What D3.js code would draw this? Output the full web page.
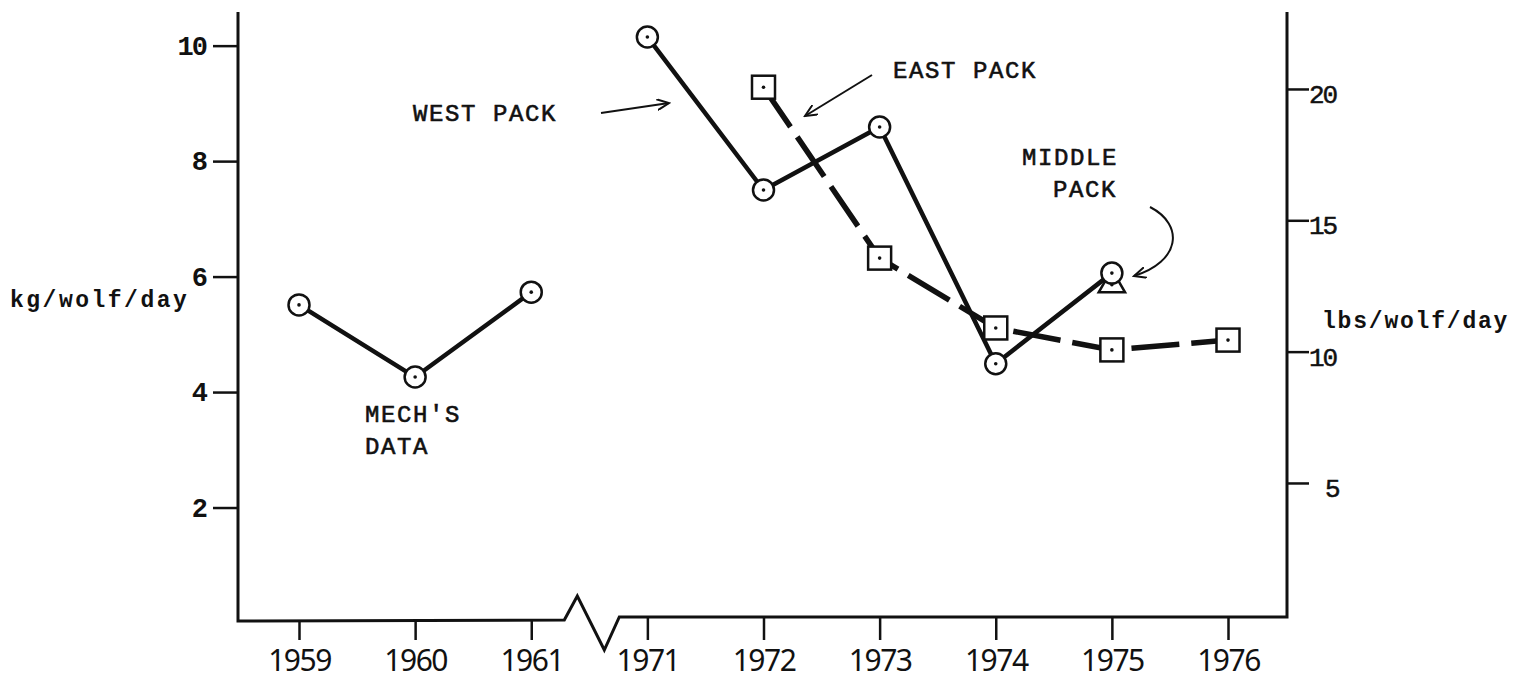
<!DOCTYPE html>
<html>
<head>
<meta charset="utf-8">
<script src="https://cdn.jsdelivr.net/npm/d3@7"></script>
<style>
  body { margin: 0; background: #fff; }
  .mono { font-family: "Liberation Mono", "DejaVu Sans Mono", monospace; fill: #111; }
  .year { font-family: "Noto Sans", "DejaVu Sans", sans-serif; fill: #111; }
</style>
</head>
<body>
<div id="chart"></div>
<script>
// years along the broken x axis
var years = ["1959", "1960", "1961", "1971", "1972", "1973", "1974", "1975", "1976"];

// kg/wolf/day
var mechYears = ["1959", "1960", "1961"];
var mechValues = [5.51, 4.26, 5.73];

var westYears = ["1971", "1972", "1973", "1974", "1975"];
var westValues = [10.15, 7.5, 8.59, 4.49, 6.06];

var eastYears = ["1972", "1973", "1974", "1975", "1976"];
var eastValues = [9.28, 6.32, 5.11, 4.73, 4.9];

var middleYears = ["1975"];
var middleValues = [5.86];

var kgTicks = [2, 4, 6, 8, 10];
var lbsTicks = [5, 10, 15, 20];

var svgWidth = 1516;
var svgHeight = 680;

var svg = d3.select("#chart")
  .append("svg")
  .attr("width", svgWidth)
  .attr("height", svgHeight);

// scales
var xScale = d3.scalePoint().domain(years).range([299, 1228]);
var yScale = d3.scaleLinear().domain([0, 10.6]).range([623, 11]);
// right axis was hand drawn, its ticks don't line up exactly with kg*2.2
var yLbs = d3.scaleLinear().domain([0, 22.93]).range([614.3, 12]);

var leftX = 238, rightX = 1287, topY = 12, baseL = 621, baseR = 617;

// frame with the axis break between 1961 and 1971
var brk = (xScale("1961") + xScale("1971")) / 2;
var frame = d3.path();
frame.moveTo(leftX, topY);
frame.lineTo(leftX, baseL);
frame.lineTo(brk - 25, baseL - 1);
frame.lineTo(brk - 12, 596);
frame.lineTo(brk + 15, 650);
frame.lineTo(brk + 30, baseR);
frame.lineTo(rightX, baseR);
frame.lineTo(rightX, topY);
svg.append("path")
  .attr("d", frame.toString())
  .attr("fill", "none")
  .attr("stroke", "#111")
  .attr("stroke-width", 3)
  .attr("stroke-linejoin", "miter");

// left axis
var leftAxis = d3.axisLeft(yScale).tickValues(kgTicks).tickSize(25).tickPadding(7);
var gL = svg.append("g").attr("transform", `translate(${leftX},0)`).call(leftAxis);
gL.select(".domain").remove();
gL.selectAll("line").attr("stroke", "#111").attr("stroke-width", 2.5);
gL.selectAll("text")
  .attr("class", "mono")
  .style("font-size", "27px")
  .style("font-weight", "bold")
  .attr("letter-spacing", -2);

// right axis
var rightAxis = d3.axisRight(yLbs).tickValues(lbsTicks).tickSize(22).tickPadding(1);
var gR = svg.append("g").attr("transform", `translate(${rightX},0)`).call(rightAxis);
gR.select(".domain").remove();
gR.selectAll("line").attr("stroke", "#111").attr("stroke-width", 2.5);
gR.selectAll("text")
  .attr("class", "mono")
  .style("font-size", "26px")
  .attr("letter-spacing", -2)
  .attr("stroke", "#111").attr("stroke-width", 0.5)
  .attr("x", d => d === 5 ? 38 : 22)
  .attr("dy", "0.52em");

// bottom axis
var bottomAxis = d3.axisBottom(xScale).tickSize(20).tickPadding(9);
var gB = svg.append("g").attr("transform", `translate(0,${baseL - 1})`).call(bottomAxis);
gB.select(".domain").remove();
gB.selectAll("line").attr("stroke", "#111").attr("stroke-width", 2.5)
  .attr("y1", d => xScale(d) > brk ? -4 : 0);
gB.selectAll("text")
  .attr("class", "year")
  .style("font-size", "30px")
  .attr("letter-spacing", -1.5)
  .attr("dy", "0.72em");

// lines
var line = d3.line().x(d => xScale(d[0])).y(d => yScale(d[1]));
var mechData = d3.zip(mechYears, mechValues);
var westData = d3.zip(westYears, westValues);
var eastData = d3.zip(eastYears, eastValues);
var middleData = d3.zip(middleYears, middleValues);

svg.append("path").datum(eastData)
  .attr("d", line).attr("fill", "none")
  .attr("stroke", "#111").attr("stroke-width", 5.5)
  .attr("stroke-dasharray", "48,12");

[mechData, westData].forEach(function(data) {
  svg.append("path").datum(data)
    .attr("d", line).attr("fill", "none")
    .attr("stroke", "#111").attr("stroke-width", 4.5)
    .attr("stroke-linejoin", "round");
});

// markers
function dot(sel) {
  sel.append("circle").attr("r", 1.8).attr("fill", "#111");
}

var tri = svg.selectAll(".tri").data(middleData).enter().append("g")
  .attr("transform", d => `translate(${xScale(d[0])},${yScale(d[1])})`);
tri.append("path")
  .attr("d", d3.symbol().type(d3.symbolTriangle).size(300))
  .attr("fill", "#fff").attr("stroke", "#111").attr("stroke-width", 2.5);
dot(tri);

var sq = svg.selectAll(".sq").data(eastData).enter().append("g")
  .attr("transform", d => `translate(${xScale(d[0])},${yScale(d[1])})`);
sq.append("rect")
  .attr("x", -11.5).attr("y", -11.5).attr("width", 23).attr("height", 23)
  .attr("fill", "#fff").attr("stroke", "#111").attr("stroke-width", 2.5);
dot(sq);

var circ = svg.selectAll(".circ").data(mechData.concat(westData)).enter().append("g")
  .attr("transform", d => `translate(${xScale(d[0])},${yScale(d[1])})`);
circ.append("circle")
  .attr("r", 10.5)
  .attr("fill", "#fff").attr("stroke", "#111").attr("stroke-width", 2.5);
dot(circ);

// annotations
svg.append("defs").append("marker")
  .attr("id", "arrow")
  .attr("viewBox", "-12 -6 14 12")
  .attr("refX", 0).attr("refY", 0)
  .attr("markerWidth", 14).attr("markerHeight", 12)
  .attr("markerUnits", "userSpaceOnUse")
  .attr("orient", "auto")
  .append("path")
  .attr("d", "M-12,-5.5L0,0L-12,5.5")
  .attr("fill", "none").attr("stroke", "#111").attr("stroke-width", 2);

function note(txt, x, y) {
  svg.append("text").attr("class", "mono")
    .attr("x", x).attr("y", y)
    .style("font-size", "24px")
    .attr("letter-spacing", 1.6)
    .attr("stroke", "#111").attr("stroke-width", 0.6)
    .text(txt);
}
note("WEST PACK", 413, 121);
note("EAST PACK", 893, 78);
note("MIDDLE", 1022, 165);
note("PACK", 1053, 197);
note("MECH'S", 365, 422);
note("DATA", 365, 454);

function arrow(d) {
  svg.append("path").attr("d", d)
    .attr("fill", "none").attr("stroke", "#111").attr("stroke-width", 2)
    .attr("marker-end", "url(#arrow)");
}
arrow("M601,113L669,103");
arrow("M872,75L805,116");
arrow("M1150,207C1185,225 1180,262 1134,276");

svg.append("text").attr("class", "mono")
  .attr("x", 10).attr("y", 307)
  .style("font-size", "23px").style("font-weight", "bold")
  .attr("letter-spacing", 2.5)
  .text("kg/wolf/day");

svg.append("text").attr("class", "mono")
  .attr("x", 1322).attr("y", 328)
  .style("font-size", "23px").style("font-weight", "bold")
  .attr("letter-spacing", 1.8)
  .text("lbs/wolf/day");
</script>
</body>
</html>
